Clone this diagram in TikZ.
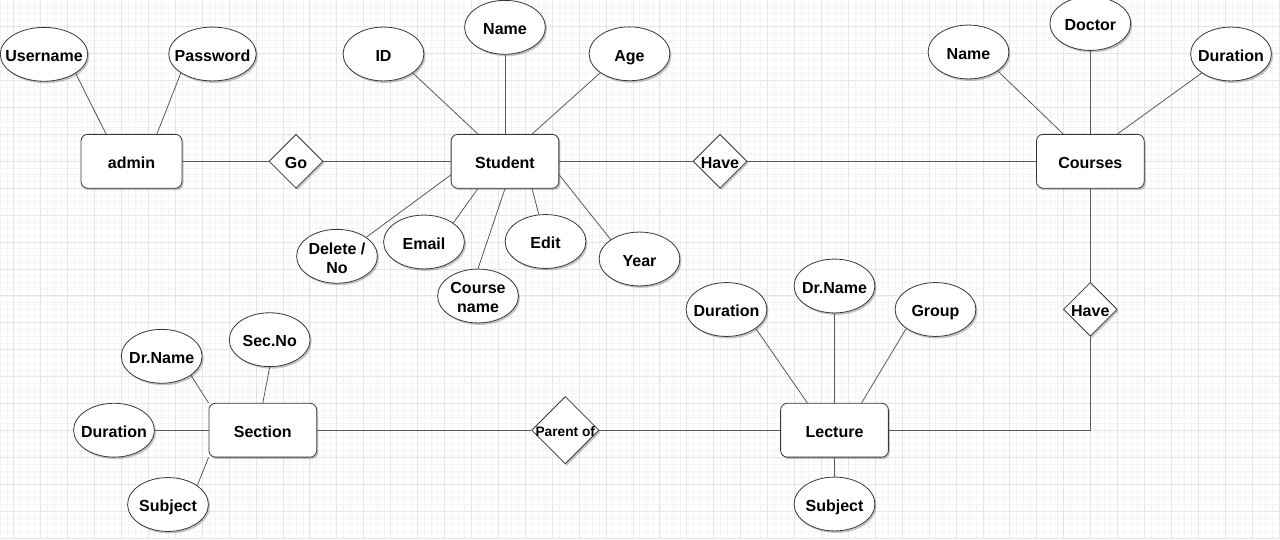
\documentclass[tikz,border=0pt]{standalone}
\usepackage{fontspec}
\setmainfont{Liberation Sans}
\usetikzlibrary{shapes.geometric,shadows,calc}
\newcommand{\tx}[1]{\makebox[0pt][c]{\raisebox{-5.6pt}[0pt][0pt]{\begin{tabular}{@{}c@{}}#1\end{tabular}}}}
\newcommand{\txs}[1]{\makebox[0pt][c]{\raisebox{-4.8pt}[0pt][0pt]{\begin{tabular}{@{}c@{}}#1\end{tabular}}}}
\tikzset{
  base/.style={draw=black!78, line width=0.6pt, fill=white, inner sep=0pt,
    font=\bfseries\fontsize{12}{14.25}\selectfont,
    drop shadow={shadow xshift=1.2pt, shadow yshift=-1.5pt, opacity=0.22, fill=black}},
  entity/.style={base, rectangle, rounded corners=5pt, minimum width=80.8pt, minimum height=40.4pt},
  attr/.style={base, ellipse, minimum width=60.6pt, minimum height=40.4pt},
  wideattr/.style={attr, minimum width=65.6pt},
  rel/.style={base, diamond, aspect=1, minimum width=40.4pt, minimum height=40.4pt},
  link/.style={draw=black!65, line width=0.6pt},
  gminor/.style={draw=black!4, line width=0.4pt},
  gmajor/.style={draw=black!10, line width=0.5pt},
}
\begin{document}
\begin{tikzpicture}[x=0.75pt,y=-0.75pt]
\useasboundingbox (0,0) rectangle (1280,539);
\fill[white] (0,0) rectangle (1280,539);
% grid
\foreach \i in {0,...,190} {\draw[gminor] ({0.24+\i*6.73},0) -- ({0.24+\i*6.73},539);}
\foreach \j in {0,...,80} {\draw[gminor] (0,{-0.3+\j*6.73}) -- (1280,{-0.3+\j*6.73});}
\foreach \k in {0,...,47} {\draw[gmajor] ({13.7+\k*26.92},0) -- ({13.7+\k*26.92},539);}
\foreach \k in {1,...,20} {\draw[gmajor] (0,{-0.3+\k*26.92}) -- (1280,{-0.3+\k*26.92});}

% entities
\node[entity, minimum width=75.7pt] (admin) at (131.5,161.3) {\tx{admin}};
\node[entity] (student) at (505,161.3) {\tx{Student}};
\node[entity] (courses) at (1090.3,161.3) {\tx{Courses}};
\node[entity] (section) at (262.8,430.2) {\tx{Section}};
\node[entity] (lecture) at (834.5,430.2) {\tx{Lecture}};

% relationships
\node[rel] (go) at (296,161.3) {\tx{Go}};
\node[rel] (have1) at (720,161.3) {\tx{Have}};
\node[rel] (have2) at (1090.3,309.3) {\tx{Have}};
\node[rel, minimum width=50.5pt, minimum height=50.5pt,
  font=\bfseries\fontsize{10.3}{12}\selectfont] (parent) at (565.3,430.2) {\txs{Parent of}};

% attributes
\node[wideattr] (user) at (44,54.3) {\tx{Username}};
\node[wideattr] (pass) at (212.5,54) {\tx{Password}};
\node[attr] (id) at (383.5,54) {\tx{ID}};
\node[attr] (sname) at (505,27.3) {\tx{Name}};
\node[attr] (age) at (629.5,53.8) {\tx{Age}};
\node[attr] (del) at (337,256.3) {\tx{Delete /\\No}};
\node[attr] (email) at (424,242) {\tx{Email}};
\node[attr] (crs) at (478,296) {\tx{Course\\name}};
\node[attr] (edit) at (545.5,241.5) {\tx{Edit}};
\node[attr] (year) at (639.5,259) {\tx{Year}};
\node[attr] (coname) at (968.5,52) {\tx{Name}};
\node[attr] (doctor) at (1090.3,23.5) {\tx{Doctor}};
\node[attr] (codur) at (1231,54) {\tx{Duration}};
\node[attr] (ldur) at (726.5,309.5) {\tx{Duration}};
\node[attr] (ldrn) at (834.5,286) {\tx{Dr.Name}};
\node[attr] (group) at (935.5,309.5) {\tx{Group}};
\node[attr] (lsub) at (834.5,504) {\tx{Subject}};
\node[attr] (sdrn) at (161.7,356.3) {\tx{Dr.Name}};
\node[attr] (secno) at (269.7,339.7) {\tx{Sec.No}};
\node[attr] (sdur) at (114,430.2) {\tx{Duration}};
\node[attr] (ssub) at (168,504.5) {\tx{Subject}};

% connectors: admin
\draw[link] (user.-31.6) -- ($(admin.north west)!0.25!(admin.north east)$);
\draw[link] (pass.211.6) -- ($(admin.north west)!0.75!(admin.north east)$);
% student
\draw[link] (id.-33.7) -- ($(student.north west)!0.25!(student.north east)$);
\draw[link] (sname.south) -- (student.north);
\draw[link] (age.213.7) -- ($(student.north west)!0.75!(student.north east)$);
\draw[link] (del.33.7) -- ($(student.north west)!0.75!(student.south west)$);
\draw[link] (email.33.7) -- ($(student.south west)!0.25!(student.south east)$);
\draw[link] (crs.north) -- (student.south);
\draw[link] (edit.104) -- ($(student.south west)!0.75!(student.south east)$);
\draw[link] (year.146.3) -- ($(student.north east)!0.75!(student.south east)$);
% relationships top row
\draw[link] (admin.east) -- (go.west);
\draw[link] (go.east) -- (student.west);
\draw[link] (student.east) -- (have1.west);
\draw[link] (have1.east) -- (courses.west);
% courses
\draw[link] (coname.-33.7) -- ($(courses.north west)!0.25!(courses.north east)$);
\draw[link] (doctor.south) -- (courses.north);
\draw[link] (codur.213.7) -- ($(courses.north west)!0.75!(courses.north east)$);
\draw[link] (courses.south) -- (have2.north);
\draw[link] (have2.south) |- (lecture.east);
% lecture
\draw[link] (ldur.-33.7) -- ($(lecture.north west)!0.25!(lecture.north east)$);
\draw[link] (ldrn.south) -- (lecture.north);
\draw[link] (group.213.7) -- ($(lecture.north west)!0.75!(lecture.north east)$);
\draw[link] (lecture.south) -- (lsub.north);
% section
\draw[link] (section.east) -- (parent.west);
\draw[link] (parent.east) -- (lecture.west);
\draw[link] (sdrn.-33.7) -- (section.north west);
\draw[link] (secno.south) -- (section.north);
\draw[link] (sdur.east) -- (section.west);
\draw[link] (ssub.33.7) -- (section.south west);
\end{tikzpicture}
\end{document}
